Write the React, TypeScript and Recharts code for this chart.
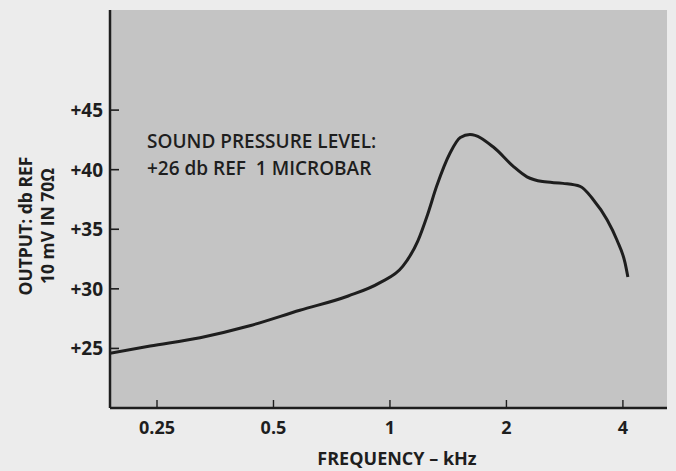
import React from "react";
import {
  LineChart,
  Line,
  XAxis,
  YAxis,
  CartesianGrid,
} from "recharts";

// frequency in kHz, output in db
const frequencies = [
  0.189, 0.24, 0.323, 0.434, 0.585, 0.78, 0.94, 1.08, 1.18, 1.25, 1.32, 1.43,
  1.52, 1.61, 1.85, 2.08, 2.26, 2.48, 2.8, 3.1, 3.35, 3.64, 3.86, 4.05, 4.12,
];
const outputDb = [
  24.6, 25.2, 25.9, 26.9, 28.2, 29.4, 30.5, 31.9, 34.0, 36.2, 38.6, 41.4,
  42.7, 42.95, 41.9, 40.3, 39.4, 39.0, 38.85, 38.6, 37.5, 35.8, 34.1, 32.2,
  31.0,
];
const freqTicks = [0.25, 0.5, 1, 2, 4];
const dbTicks = [25, 30, 35, 40, 45];

const data = frequencies.map((f, i) => ({ f, db: outputDb[i] }));

const FONT = "'Open Sans', 'DejaVu Sans', sans-serif";
const INK = "#1e1e1e";

// tick marks point into the plot, so draw them together with the label
const YTick = (props: any) => {
  const { x, y, payload } = props;
  return (
    <g>
      <line x1={x + 7} y1={y} x2={x + 16} y2={y} stroke={INK} strokeWidth={1.6} />
      <text
        x={x}
        y={y}
        dy={7}
        textAnchor="end"
        fontFamily={FONT}
        fontWeight={700}
        fontSize={19}
        fill={INK}
      >
        {`+${payload.value}`}
      </text>
    </g>
  );
};

const XTick = (props: any) => {
  const { x, y, payload } = props;
  return (
    <g>
      <line x1={x} y1={y - 1} x2={x} y2={y - 10} stroke={INK} strokeWidth={1.4} />
      <text
        x={x}
        y={y}
        dy={24}
        textAnchor="middle"
        fontFamily={FONT}
        fontWeight={700}
        fontSize={18}
        fill={INK}
      >
        {payload.value}
      </text>
    </g>
  );
};

export default function App() {
  return (
    <div
      style={{
        position: "absolute",
        left: 0,
        top: 0,
        width: 676,
        height: 471,
        background: "#ececec",
        fontFamily: FONT,
      }}
    >
      <LineChart
        width={676}
        height={471}
        data={data}
        margin={{ top: 10, right: 9, left: 60, bottom: 33 }}
      >
        <CartesianGrid
          horizontal={false}
          vertical={false}
          fill="#c4c4c4"
          fillOpacity={1}
        />
        <XAxis
          dataKey="f"
          type="number"
          scale="log"
          domain={[0.189, 5.2]}
          allowDataOverflow
          ticks={freqTicks}
          tick={<XTick />}
          tickLine={false}
          tickSize={0}
          height={30}
          axisLine={{ stroke: INK, strokeWidth: 2.5 }}
        />
        <YAxis
          type="number"
          domain={[20, 53.4]}
          allowDataOverflow
          ticks={dbTicks}
          tick={<YTick />}
          tickLine={false}
          tickSize={0}
          tickMargin={7}
          width={50}
          axisLine={{ stroke: INK, strokeWidth: 2.5 }}
        />
        <Line
          dataKey="db"
          type="monotone"
          stroke={INK}
          strokeWidth={3}
          dot={false}
          isAnimationActive={false}
        />
      </LineChart>

      <div
        style={{
          position: "absolute",
          left: 147,
          top: 128,
          fontSize: 19,
          fontWeight: 600,
          color: INK,
          lineHeight: "27px",
          whiteSpace: "pre",
        }}
      >
        {"SOUND PRESSURE LEVEL:\n+26 db REF  1 MICROBAR"}
      </div>

      <div
        style={{
          position: "absolute",
          left: 0,
          width: 794,
          top: 446,
          textAlign: "center",
          fontSize: 18,
          fontWeight: 700,
          color: INK,
        }}
      >
        FREQUENCY – kHz
      </div>

      <div
        style={{
          position: "absolute",
          left: 36,
          top: 226,
          width: 220,
          transform: "translate(-50%, -50%) rotate(-90deg)",
          textAlign: "center",
          fontSize: 17.5,
          fontWeight: 700,
          color: INK,
          lineHeight: "22px",
          whiteSpace: "pre",
        }}
      >
        {"OUTPUT: db REF\n10 mV IN 70Ω"}
      </div>
    </div>
  );
}
